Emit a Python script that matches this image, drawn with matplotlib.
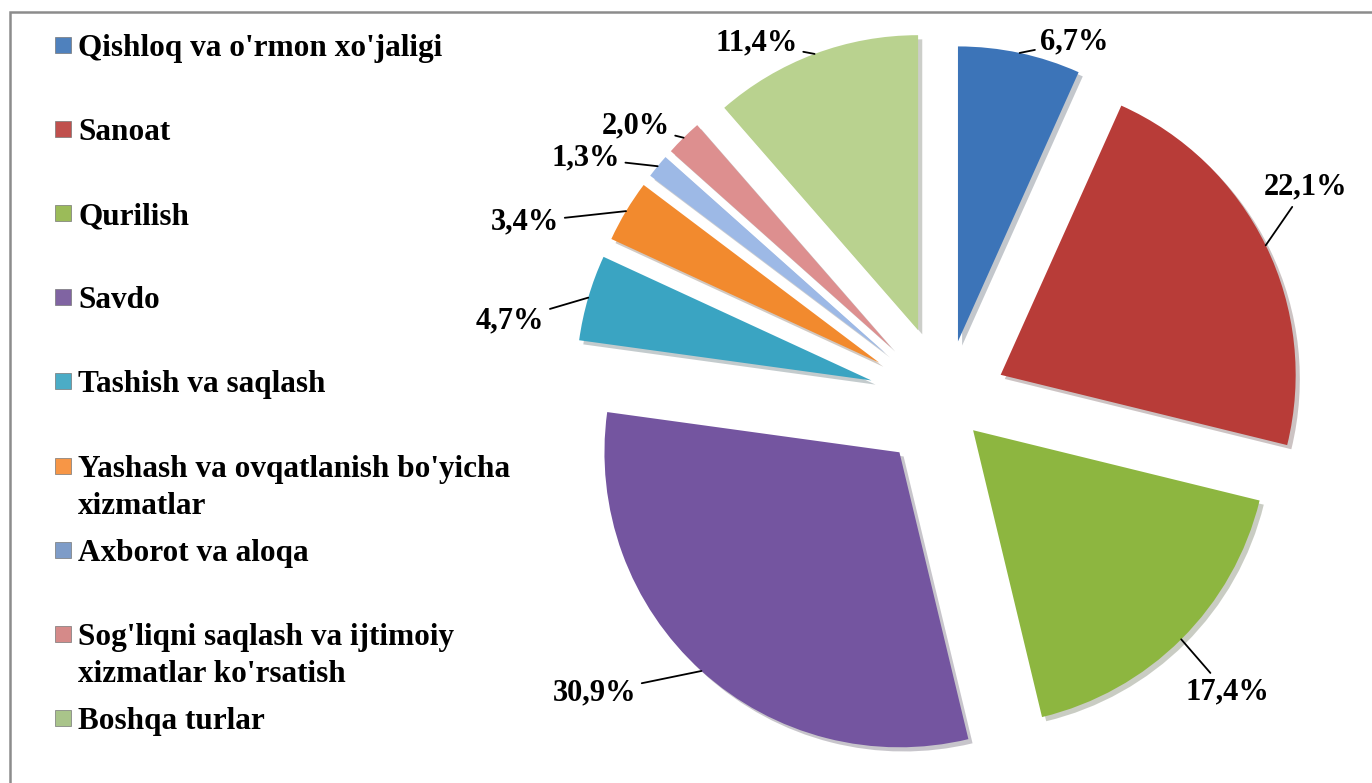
import matplotlib.pyplot as plt
import matplotlib.patheffects as pe
from matplotlib.patches import Rectangle
import numpy as np

categories = ["Qishloq va o'rmon xo'jaligi", "Sanoat", "Qurilish", "Savdo",
              "Tashish va saqlash", "Yashash va ovqatlanish bo'yicha\nxizmatlar",
              "Axborot va aloqa", "Sog'liqni saqlash va ijtimoiy\nxizmatlar ko'rsatish",
              "Boshqa turlar"]
shares = [6.7, 22.1, 17.4, 30.9, 4.7, 3.4, 1.3, 2.0, 11.4]
share_labels = ["6,7%", "22,1%", "17,4%", "30,9%", "4,7%", "3,4%", "1,3%", "2,0%", "11,4%"]

colors = ['#3C74B8', '#B83C38', '#8DB640', '#7455A0', '#3AA4C2',
          '#F28A2E', '#9DB9E6', '#DD8F8F', '#B9D28F']
legend_colors = ['#4F81BD', '#C0504D', '#9BBB59', '#8064A2', '#4BACC6',
                 '#F79646', '#7E9CC8', '#D58A89', '#A9C48A']
explode = [0.21, 0.21, 0.135, 0.23, 0.26, 0.26, 0.26, 0.26, 0.26]
# label text offsets from slice edge (pixels, y up)
label_offsets = [(55, 11), (40, 58), (46, -53), (-107, -22), (-78, -23),
                 (-101, -11), (-72, 8), (-48, 12), (-58, 11)]

W, H = 1372, 783
R = 295
cx, cy = 945, H - 402

fig = plt.figure(figsize=(W / 100, H / 100), dpi=100)
ax = fig.add_axes([0, 0, 1, 1])

font = dict(family=['Liberation Serif', 'DejaVu Serif'], weight='bold')

wedges, _ = ax.pie(shares, explode=[e * R for e in explode], colors=colors,
                   radius=R, center=(cx, cy), startangle=90, counterclock=False,
                   wedgeprops=dict(linewidth=0))
for w in wedges:
    w.set_path_effects([pe.SimplePatchShadow(offset=(3, -3), alpha=0.25), pe.Normal()])

for w, lab, off in zip(wedges, share_labels, label_offsets):
    mid = np.deg2rad((w.theta1 + w.theta2) / 2)
    ax_, ay_ = w.center[0] + w.r * np.cos(mid), w.center[1] + w.r * np.sin(mid)
    ax.annotate(lab, xy=(ax_, ay_), xytext=(ax_ + off[0], ay_ + off[1]),
                ha='center', va='center', fontsize=22, **font,
                arrowprops=dict(arrowstyle='-', lw=1.3, color='black',
                                shrinkA=2, shrinkB=0))

ax.set_xlim(0, W)
ax.set_ylim(0, H)
ax.set_aspect('auto')
ax.axis('off')

# legend
for i, (name, c) in enumerate(zip(categories, legend_colors)):
    yc = H - (45 + i * 84.1)
    ax.add_patch(Rectangle((55, yc - 8), 16, 16, facecolor=c, edgecolor='#777777', lw=0.5))
    ax.text(78, yc + 11, name, ha='left', va='top', fontsize=22.5,
            linespacing=1.38, **font)

# chart frame (top and left edges only are visible)
ax.plot([10, 10, W], [0, H - 12, H - 12], color='#8c8c8c', lw=1.8, solid_joinstyle='miter')

fig.savefig('out.png', dpi=100)
